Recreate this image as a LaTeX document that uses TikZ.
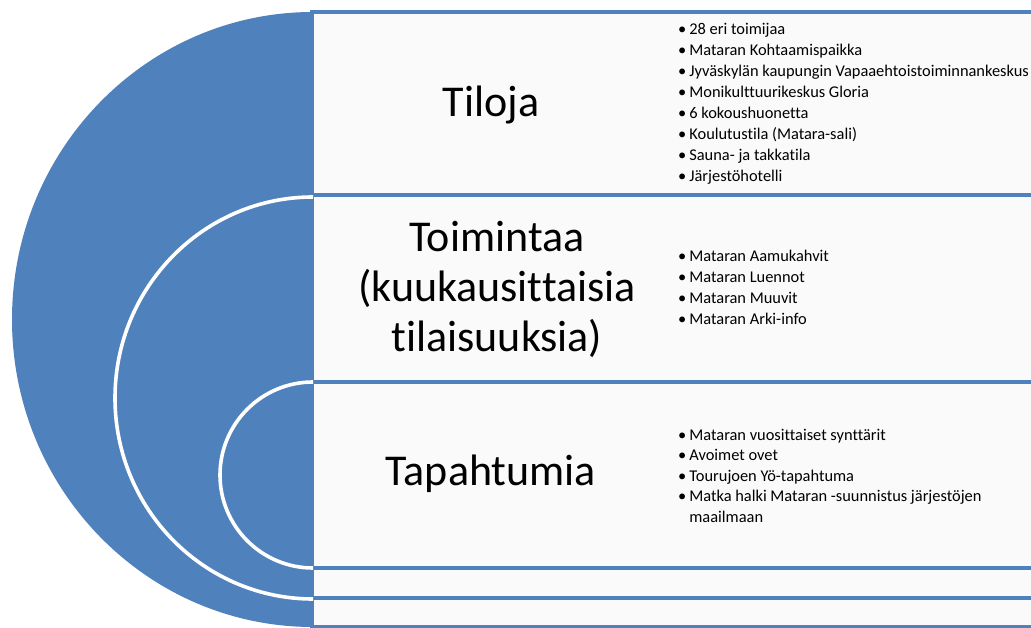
\documentclass[tikz,border=0pt]{standalone}
\usepackage{fontspec}
\setmainfont{Carlito}[Ligatures=NoCommon]
\definecolor{accent}{HTML}{4F81BD}
\definecolor{boxfill}{HTML}{FAFAFA}
\begin{document}
\begin{tikzpicture}[x=1pt,y=-1pt,
  band/.style={draw=accent, line width=4pt, fill=boxfill},
  title/.style={font=\fontsize{44}{50}\selectfont, inner sep=0, anchor=base},
  list/.style={font=\fontsize{16.4}{21}\selectfont, inner sep=0, anchor=base west},
  ring/.style={draw=white, line width=3.6pt}]
\useasboundingbox (0,0) rectangle (1031,628);
\fill[white] (0,0) rectangle (1031,628);
% bands
\draw[band] (312,12) rectangle (1045,195);
\draw[band] (312,195) rectangle (1045,382);
\draw[band] (312,382) rectangle (1045,568);
\draw[band] (312,568) rectangle (1045,598);
\draw[band] (312,598) rectangle (1045,627);
% nested half disks
\begin{scope}
\clip (0,0) rectangle (313,640);
\fill[accent] (313,319.5) ellipse [x radius=301, y radius=307.5];
\draw[ring] (313,398) ellipse [x radius=198, y radius=201];
\draw[ring] (313,475) ellipse [x radius=93, y radius=93];
\end{scope}
% titles
\node[title] (tiloja) at (491,117) {Tiloja};
\node[title] (toiminta) at (497,252) {\begin{tabular}[t]{@{}c@{}}Toimintaa\\(kuukausittaisia\\tilaisuuksia)\end{tabular}};
\node[title] (tapaht) at (491,485) {Tapahtumia};
% lists
\node[list] (list1) at (678,35) {\begin{tabular}[t]{@{}l@{\hspace{3pt}}l@{}}
\textbullet & 28 eri toimijaa\\
\textbullet & Mataran Kohtaamispaikka\\
\textbullet & Jyväskylän kaupungin Vapaaehtoistoiminnankeskus\\
\textbullet & Monikulttuurikeskus Gloria\\
\textbullet & 6 kokoushuonetta\\
\textbullet & Koulutustila (Matara-sali)\\
\textbullet & Sauna- ja takkatila\\
\textbullet & Järjestöhotelli
\end{tabular}};
\node[list] (list2) at (678,262) {\begin{tabular}[t]{@{}l@{\hspace{3pt}}l@{}}
\textbullet & Mataran Aamukahvit\\
\textbullet & Mataran Luennot\\
\textbullet & Mataran Muuvit\\
\textbullet & Mataran Arki-info
\end{tabular}};
\node[list, font=\fontsize{16.4}{20.5}\selectfont] (list3) at (678,440) {\begin{tabular}[t]{@{}l@{\hspace{3pt}}l@{}}
\textbullet & Mataran vuosittaiset synttärit\\
\textbullet & Avoimet ovet\\
\textbullet & Tourujoen Yö-tapahtuma\\
\textbullet & Matka halki Mataran -suunnistus järjestöjen\\
 & maailmaan
\end{tabular}};
\end{tikzpicture}
\end{document}
